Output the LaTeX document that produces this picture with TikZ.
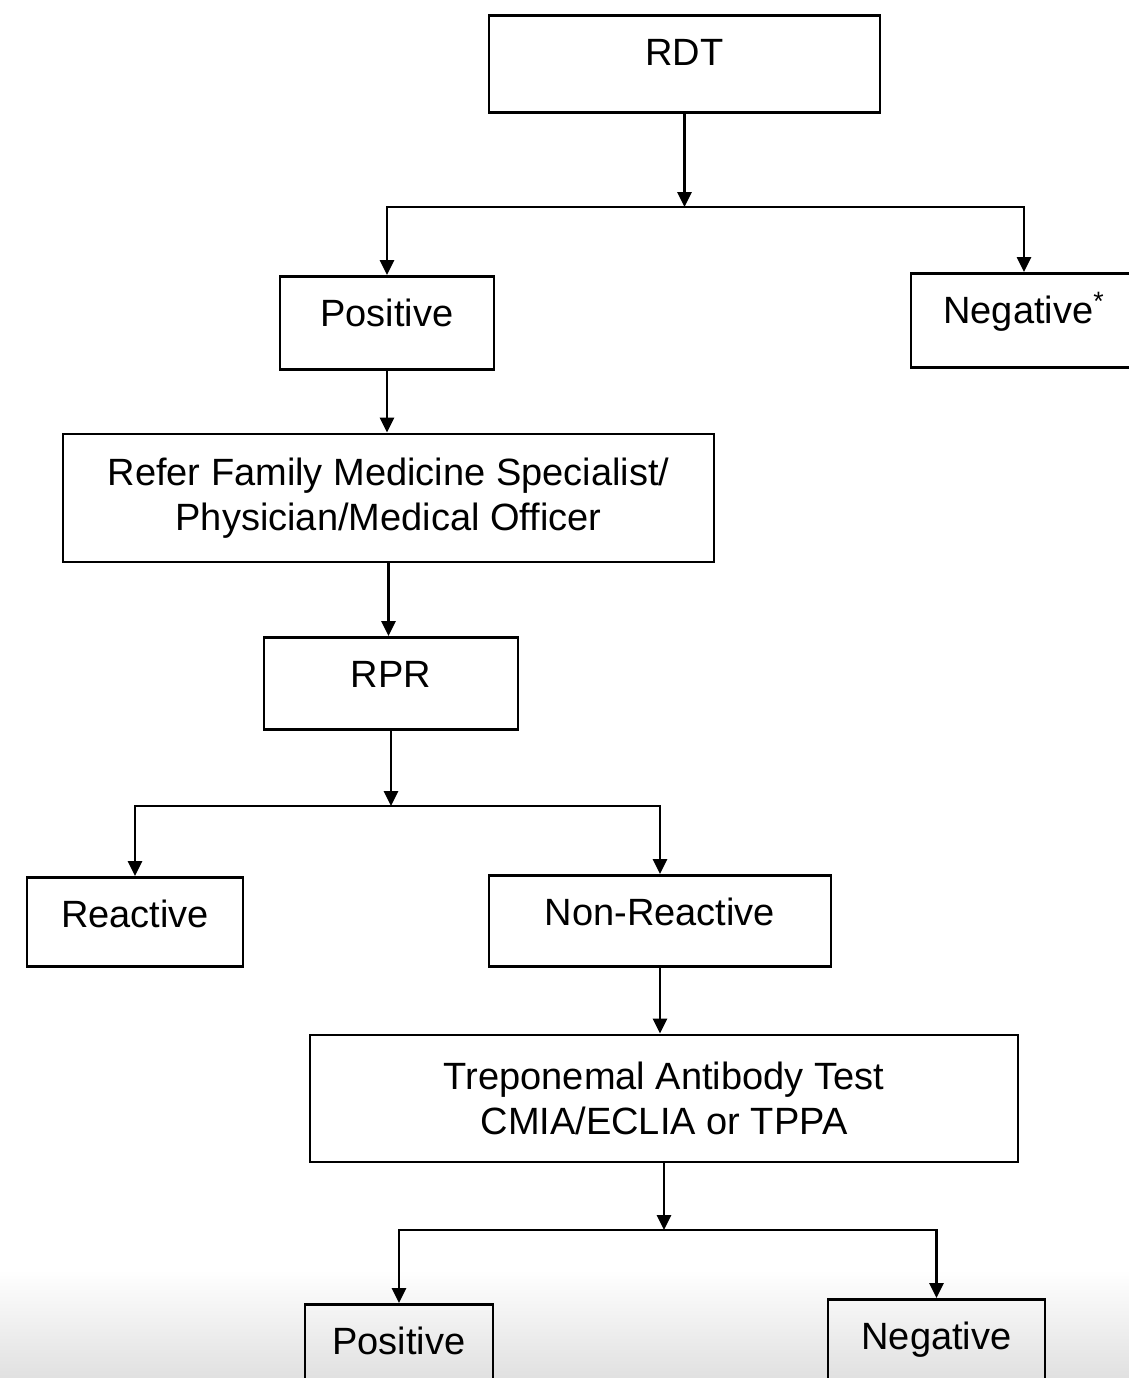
\documentclass[tikz,border=0pt]{standalone}
\usepackage{fontspec}
\setmainfont{Liberation Sans}
\usetikzlibrary{arrows.meta}
\begin{document}
\begin{tikzpicture}[x=0.5pt,y=-0.5pt,>={Triangle[length=7.5pt,width=7pt]},
  box/.style={draw,line width=1.4pt,inner sep=0pt,align=center,font=\fontsize{19}{22.5}\selectfont},
  onebox/.style={box,anchor=north,text height=25pt,text depth=#1},
  link/.style={->,line width=1.3pt}]
  \useasboundingbox (0,0) rectangle (1129,1378);
  \shade[top color=white,bottom color=black!12] (0,1270) rectangle (1129,1378);
  % boxes
  \node[onebox=23.5pt,minimum width=195.5pt] (rdt)      at (684.5,14) {RDT};
  \node[onebox=21.5pt,minimum width=107pt]   (pos)      at (387,275)  {Positive};
  \node[onebox=22pt,minimum width=113pt]     (neg)      at (1024,272) {Negative\textsuperscript{*}};
  \node[box,minimum width=325.5pt,minimum height=64pt] (refer) at (388.5,498)
       {Refer Family Medicine Specialist/\\Physician/Medical Officer};
  \node[onebox=21pt,minimum width=127pt]     (rpr)      at (391,636)  {RPR};
  \node[onebox=19.5pt,minimum width=108pt]   (reactive) at (135,876)  {Reactive};
  \node[onebox=20.5pt,minimum width=171pt]   (nonreact) at (660,874)  {Non-Reactive};
  \node[box,minimum width=354pt,minimum height=63.5pt] (trep) at (664,1098.5)
       {Treponemal Antibody Test\\CMIA/ECLIA or TPPA};
  \node[onebox=25pt,minimum width=94pt]      (pos2)     at (399,1303) {Positive};
  \node[onebox=25pt,minimum width=108.5pt]   (neg2)     at (936.5,1298) {Negative};
  % junctions
  \coordinate (j1) at (rdt.south |- 0,207);
  \coordinate (j2) at (rpr.south |- 0,806);
  \coordinate (j3) at (trep.south |- 0,1230);
  % connectors
  \draw[link] (rdt.south) -- (j1);
  \draw[link] (j1) -| (pos);
  \draw[link] (j1) -| (neg);
  \draw[link] (pos.south) -- (pos.south |- refer.north);
  \draw[link] (refer.south) -- (refer.south |- rpr.north);
  \draw[link] (rpr.south) -- (j2);
  \draw[link] (j2) -| (reactive);
  \draw[link] (j2) -| (nonreact);
  \draw[link] (nonreact.south) -- (nonreact.south |- trep.north);
  \draw[link] (trep.south) -- (j3);
  \draw[link] (j3) -| (pos2);
  \draw[link] (j3) -| (neg2);
\end{tikzpicture}
\end{document}
